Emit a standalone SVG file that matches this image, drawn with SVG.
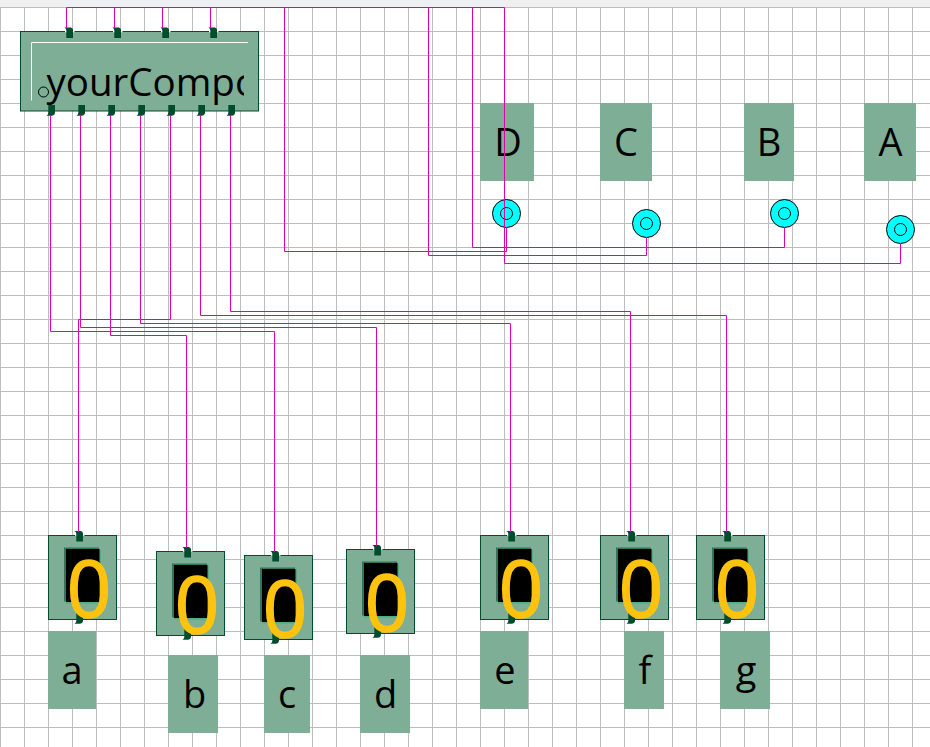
<svg xmlns="http://www.w3.org/2000/svg" width="930" height="747" viewBox="0 0 930 747">
<style>
.bg{fill:#fff}.strip{fill:#f0f0f0}
.grid path{stroke:#bdbdbd;stroke-width:1;fill:none}
.wire{fill:none;stroke:#e100ac;stroke-width:1}
.body{fill:#7eae96;stroke:#004d2e;stroke-width:1}
.lbl{fill:#7eae96}
.pin{fill:#004d2e}
.t{font-family:"Open Sans","Noto Sans",sans-serif;fill:#000}
.lt{font-size:38px;text-anchor:middle}
.dig{font-family:"Open Sans","Noto Sans",sans-serif;font-size:78px;fill:#ffc30e;stroke:#ffc30e;stroke-width:1.500;text-anchor:middle}
.scr{fill:#000}.hi{fill:#35745a}.lo{fill:#4fae80}
.ring{fill:#00ffff;stroke:#000;stroke-width:1}
.ringi{fill:none;stroke:#000;stroke-width:1}
</style>
<defs>
<g id="pt"><rect x="0.500" y="3" width="9.500" height="1.800" fill="#fff"/><path class="pin" d="M0 0H6.500Q8.500 .5 8.500 2.500V10.500H1.800V2.500Q1.800 1 0 0Z"/></g>
<path id="pb" class="pin" d="M1.800 0H8.500V8Q8.200 10.500 5.500 10.800H0Q1.800 9.500 1.800 8Z"/>
<clipPath id="cl"><rect x="30" y="60" width="214" height="47"/></clipPath>
<g id="disp">
<rect class="body" x="0" y="0" width="68" height="84"/>
<rect class="hi" x="15.500" y="12" width="35" height="54"/>
<rect class="lo" x="17.500" y="14" width="35" height="54"/>
<rect class="scr" x="17.500" y="13.500" width="33.500" height="53"/>
<use href="#pt" x="26" y="-4.500"/>
<use href="#pb" x="26" y="77.500"/>
</g>
<g id="ring"><circle class="ring" r="14"/><circle class="ringi" r="6"/></g>
</defs>
<rect class="bg" width="930" height="747"/>
<rect class="strip" width="930" height="7"/>
<g class="grid"><path d="M.5 7V747M24.500 7V747M48.500 7V747M72.500 7V747M96.500 7V747M120.500 7V747M144.500 7V747M168.500 7V747M192.500 7V747M216.500 7V747M240.500 7V747M264.500 7V747M288.500 7V747M312.500 7V747M336.500 7V747M360.500 7V747M384.500 7V747M408.500 7V747M432.500 7V747M456.500 7V747M480.500 7V747M504.500 7V747M528.500 7V747M552.500 7V747M576.500 7V747M600.500 7V747M624.500 7V747M648.500 7V747M672.500 7V747M696.500 7V747M720.500 7V747M744.500 7V747M768.500 7V747M792.500 7V747M816.500 7V747M840.500 7V747M864.500 7V747M888.500 7V747M912.500 7V747"/>
<path d="M0 7.500H930M0 31.500H930M0 55.500H930M0 79.500H930M0 103.500H930M0 127.500H930M0 151.500H930M0 175.500H930M0 199.500H930M0 223.500H930M0 247.500H930M0 271.500H930M0 295.500H930M0 319.500H930M0 343.500H930M0 367.500H930M0 391.500H930M0 415.500H930M0 439.500H930M0 463.500H930M0 487.500H930M0 511.500H930M0 535.500H930M0 559.500H930M0 583.500H930M0 607.500H930M0 631.500H930M0 655.500H930M0 679.500H930M0 703.500H930M0 727.500H930"/></g>
<g id="labels-top">
<g id="label-D"><rect class="lbl" x="480" y="103" width="54" height="78"/><text class="t lt" x="508" y="156">D</text></g>
<g id="label-C"><rect class="lbl" x="600" y="103" width="52" height="78"/><text class="t lt" x="626" y="156">C</text></g>
<g id="label-B"><rect class="lbl" x="744" y="103" width="50" height="78"/><text class="t lt" x="769" y="156">B</text></g>
<g id="label-A"><rect class="lbl" x="864" y="103" width="52" height="78"/><text class="t lt" x="890.500" y="156">A</text></g>
</g>
<g id="comp">
<rect class="body" x="20.500" y="31.500" width="238" height="79.500"/>
<path d="M31.500 100.500V42.500H248" fill="none" stroke="#fff" stroke-width="1"/>
<text class="t" clip-path="url(#cl)" x="46.500" y="96" font-size="38.500">yourCompo</text>
<circle cx="43.500" cy="92" r="5" fill="none" stroke="#000" stroke-width="1"/>
<use href="#pt" x="64.500" y="27.500"/><use href="#pt" x="112.500" y="27.500"/><use href="#pt" x="160.500" y="27.500"/><use href="#pt" x="208.500" y="27.500"/>
<use href="#pb" x="46.500" y="105"/><use href="#pb" x="76.500" y="105"/><use href="#pb" x="106.500" y="105"/><use href="#pb" x="136.500" y="105"/><use href="#pb" x="166.500" y="105"/><use href="#pb" x="196.500" y="105"/><use href="#pb" x="226.500" y="105"/>
</g>
<g id="disp-a"><use href="#disp" x="48.500" y="535.500"/></g>
<g id="disp-b"><use href="#disp" x="156.500" y="551.500"/></g>
<g id="disp-c"><use href="#disp" x="244.500" y="555.500"/></g>
<g id="disp-d"><use href="#disp" x="346.500" y="549.500"/></g>
<g id="disp-e"><use href="#disp" x="480.500" y="535.500"/></g>
<g id="disp-f"><use href="#disp" x="600.500" y="535.500"/></g>
<g id="disp-g"><use href="#disp" x="696.500" y="535.500"/></g>
<g id="rings">
<use id="ring-D" href="#ring" x="506.500" y="213.500"/>
<use id="ring-C" href="#ring" x="646.500" y="223.500"/>
<use id="ring-B" href="#ring" x="784.500" y="213.500"/>
<use id="ring-A" href="#ring" x="900.500" y="229.500"/>
</g>
<g id="connectors" class="wire">
<path class="wire" d="M66.500 28V7.500H504.500M114.500 28V7.500M162.500 28V7.500M210.500 28V7.500"/>
<path class="wire" d="M900.500 243V263.500H504.500V7.500"/>
<path class="wire" d="M784.500 227V247.500H472.500V7.500"/>
<path class="wire" d="M646.500 237V255.500H428.500V7.500"/>
<path class="wire" d="M506.500 227V251.500H284.500V7.500"/>
<path class="wire" d="M50.500 115V331.500H274.500V552"/>
<path class="wire" d="M80.500 115V327.500H376.500V546"/>
<path class="wire" d="M110.500 115V335.500H186.500V548"/>
<path class="wire" d="M140.500 115V323.500H510.500V532"/>
<path class="wire" d="M170.500 115V319.500H78.500V532"/>
<path class="wire" d="M200.500 115V315.500H726.500V532"/>
<path class="wire" d="M230.500 115V311.500H630.500V532"/>
</g>
<g id="digits">
<text class="dig" x="89" y="616.500">0</text><text class="dig" x="197" y="632.500">0</text><text class="dig" x="285" y="636.500">0</text><text class="dig" x="387" y="630.500">0</text><text class="dig" x="521" y="616.500">0</text><text class="dig" x="641" y="616.500">0</text><text class="dig" x="737" y="616.500">0</text>
</g>
<g id="labels-bottom">
<g id="label-a"><rect class="lbl" x="48" y="631" width="48" height="78"/><text class="t lt" x="72" y="684">a</text></g>
<g id="label-b"><rect class="lbl" x="168" y="655" width="50" height="78"/><text class="t lt" x="194.500" y="708">b</text></g>
<g id="label-c"><rect class="lbl" x="264" y="655" width="46" height="78"/><text class="t lt" x="287" y="708">c</text></g>
<g id="label-d"><rect class="lbl" x="360" y="655" width="50" height="78"/><text class="t lt" x="385.500" y="708">d</text></g>
<g id="label-e"><rect class="lbl" x="480" y="631" width="48" height="78"/><text class="t lt" x="505" y="684">e</text></g>
<g id="label-f"><rect class="lbl" x="624" y="631" width="40" height="78"/><text class="t lt" x="645" y="684">f</text></g>
<g id="label-g"><rect class="lbl" x="720" y="631" width="50" height="78"/><text class="t lt" x="746" y="684">g</text></g>
</g>
</svg>
